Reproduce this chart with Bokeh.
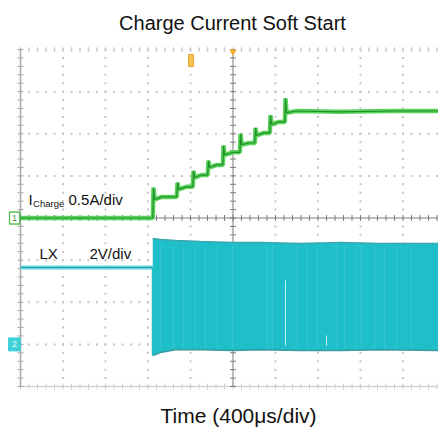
import numpy as np
from bokeh.plotting import figure
from bokeh.models import Range1d
from bokeh.core.properties import value
from bokeh.embed import file_html
from bokeh.resources import INLINE

# ---------------- scope settings ----------------
TIME_PER_DIV = 400.0     # µs/div
CH1_SCALE = 0.5          # A/div  (I_Charge)
CH2_SCALE = 2.0          # V/div  (LX)
CH1_ZERO = 0.0           # div position of 0 A
CH2_ZERO = -3.0          # div position of 0 V
N_HDIV = 10
N_VDIV = 8

# ---------------- data ----------------
# Charge current (A) vs time (µs from left edge of screen)
i_time = [0, 1245, 1252, 1262, 1330, 1470, 1478, 1488, 1560, 1622, 1628, 1638,
          1700, 1762, 1769, 1779, 1850, 1905, 1911, 1921, 2000, 2065, 2071, 2081,
          2150, 2206, 2212, 2222, 2290, 2347, 2353, 2363, 2430, 2488, 2494, 2504,
          2600, 3000, 3500, 3940]
i_amp = [0.0, 0.0, 0.36, 0.22, 0.25, 0.25, 0.42, 0.34, 0.37, 0.37, 0.56, 0.48,
         0.51, 0.51, 0.68, 0.60, 0.63, 0.63, 0.86, 0.75, 0.78, 0.78, 1.00, 0.87,
         0.89, 0.89, 1.07, 0.98, 1.01, 1.01, 1.22, 1.11, 1.14, 1.14, 1.42, 1.25,
         1.27, 1.26, 1.27, 1.27]

# LX before switching starts (V)
lx_time = [0, 1245]
lx_volt = [3.65, 3.65]

# LX switching envelope (V)
sw_time = [1245, 1318, 1459, 1694, 1995, 2259, 2635, 3012, 3388, 3940]
sw_high = [5.03, 4.98, 4.93, 4.88, 4.84, 4.84, 4.79, 4.84, 4.79, 4.79]
sw_low = [-0.53, -0.39, -0.25, -0.25, -0.29, -0.25, -0.29, -0.29, -0.25, -0.29]

# lighter stripes inside the switching band (µs)
stripe_time = [1318, 1440, 1534, 1647, 1741, 1854, 1995, 2325, 2372, 2607, 2701,
               2795, 2983, 3050, 3162, 3209, 3332, 3426, 3539, 3680]
# thin white gaps (time, top V, bottom V)
gap_time = [2494, 2880]
gap_top = [3.03, 0.42]
gap_bot = [-0.06, -0.06]

# texts
title_text = "Charge Current Soft Start"
xlabel_text = "Time (400\u03bcs/div)"
lbl_text = ["LX", "2V/div"]
lbl_t = [179, 649]
lbl_y = [-0.986, -0.986]

# ---------------- figure ----------------
PX_DIV_X = 42.5
PX_DIV_Y = 42.125
LEFT_PX, CENTER_Y_PX, W, H = 20, 217.5, 438, 429
x0 = (0 - LEFT_PX) / PX_DIV_X * TIME_PER_DIV
x1 = (W - LEFT_PX) / PX_DIV_X * TIME_PER_DIV
y1 = CENTER_Y_PX / PX_DIV_Y
y0 = (CENTER_Y_PX - H) / PX_DIV_Y
TXT_SHIFT = 6.0 / PX_DIV_Y      # baseline correction for text glyphs
p = figure(width=W, height=H, output_backend="svg", toolbar_location=None,
           x_range=Range1d(x0, x1), y_range=Range1d(y0, y1),
           min_border=0)
p.xaxis.visible = False
p.yaxis.visible = False
p.grid.visible = False
p.outline_line_color = None
p.background_fill_color = "white"
p.border_fill_color = "white"

FONT = "Liberation Sans"
TXT = "#111111"

# ---------------- graticule ----------------
DOT = "#c6c6c6"
sub = np.arange(0, N_HDIV * 5 + 1) * TIME_PER_DIV / 5
vsub = np.arange(-N_VDIV * 5 // 2, N_VDIV * 5 // 2 + 1) / 5.0
vx, vy = [], []
for k in range(1, N_HDIV):
    if k == N_HDIV // 2:
        continue
    vx += [k * TIME_PER_DIV] * len(vsub)
    vy += list(vsub)
p.scatter(vx, vy, marker="square", size=2, color=DOT, line_color=None)
hx, hy = [], []
for j in range(-N_VDIV // 2 + 1, N_VDIV // 2 + 1):
    if j == 0:
        continue
    hx += list(sub)
    hy += [j] * len(sub)
p.scatter(hx, hy, marker="square", size=2, color=DOT, line_color=None)
p.scatter(sub, [N_VDIV / 2] * len(sub), marker="dash", angle=np.pi / 2, size=5,
          line_color="#cfcfcf", line_width=1)
p.segment(0, -N_VDIV / 2, N_HDIV * TIME_PER_DIV, -N_VDIV / 2, line_color="#d2d2d2",
          line_width=1.5)
p.scatter(sub, [-N_VDIV / 2] * len(sub), marker="dash", angle=np.pi / 2, size=6,
          line_color="#cfcfcf", line_width=1)
p.segment(0, -N_VDIV / 2, 0, N_VDIV / 2, line_color="#a8a8a8", line_width=1.5)
p.scatter([0] * len(vsub), vsub, marker="dash", size=6, line_color="#a8a8a8",
          line_width=1)
CC = "#7c7c7c"
p.segment(0, 0, N_HDIV * TIME_PER_DIV, 0, line_color=CC, line_width=1)
p.segment(N_HDIV / 2 * TIME_PER_DIV, -N_VDIV / 2, N_HDIV / 2 * TIME_PER_DIV,
          N_VDIV / 2, line_color=CC, line_width=1)
p.scatter(sub, [0] * len(sub), marker="dash", angle=np.pi / 2, size=6,
          line_color=CC, line_width=1)
p.scatter([N_HDIV / 2 * TIME_PER_DIV] * len(vsub), vsub, marker="dash", size=6,
          line_color=CC, line_width=1)


def ch2(v):
    return np.asarray(v, dtype=float) / CH2_SCALE + CH2_ZERO


def ch1(a):
    return np.asarray(a, dtype=float) / CH1_SCALE + CH1_ZERO


# ---------------- LX (channel 2) ----------------
CYAN = "#1fbfc9"
p.line(lx_time, ch2(lx_volt), line_color="#5fd6de", line_width=4)
p.line(lx_time, ch2(lx_volt), line_color="#2a9ca8", line_width=1)
p.varea(x=sw_time, y1=ch2(sw_low), y2=ch2(sw_high), fill_color=CYAN)
p.segment(stripe_time, ch2([sw_high[-1] - 0.1] * len(stripe_time)), stripe_time,
          ch2([sw_low[-1] + 0.1] * len(stripe_time)), line_color="#45ccd5",
          line_width=1.2, line_alpha=0.6)
p.segment(gap_time, ch2(gap_top), gap_time, ch2(gap_bot), line_color="#c8f2f5",
          line_width=1)
p.line(sw_time, ch2(sw_high), line_color="#3aa7b0", line_width=1.5)
p.line(sw_time, ch2(sw_low), line_color="#3a9aa0", line_width=1.5)
p.segment([sw_time[0]], ch2([lx_volt[-1]]), [sw_time[0]], ch2([sw_low[0]]),
          line_color=CYAN, line_width=2)

# ---------------- I_Charge (channel 1) ----------------
p.line(i_time, ch1(i_amp), line_color="#5cd45c", line_width=4.5)
p.line(i_time, ch1(i_amp), line_color="#1f8f2a", line_width=1.2)

# ---------------- channel / trigger markers ----------------
mk_t = -0.141 * TIME_PER_DIV
p.rect([mk_t], [CH1_ZERO], width=10, height=12, width_units="screen",
       height_units="screen", fill_color="white", line_color="#55c055", line_width=1.3)
p.text([mk_t], [CH1_ZERO], text=["1"], text_font=value(FONT), text_font_size="9px",
       text_align="center", text_baseline="middle", text_color="#3a9a3a")
p.rect([mk_t], [CH2_ZERO], width=12, height=13, width_units="screen",
       height_units="screen", fill_color="#3fd0d8", line_color="#3fd0d8")
p.text([mk_t], [CH2_ZERO], text=["2"], text_font=value(FONT), text_font_size="9px",
       text_align="center", text_baseline="middle", text_color="#e8fbfc")
p.rect([1605], [3.74], width=5, height=12, width_units="screen",
       height_units="screen", fill_color="#f6c453", line_color="#e8a030")
p.scatter([N_HDIV / 2 * TIME_PER_DIV], [3.95], marker="inverted_triangle", size=6,
          color="#f0b030")

# ---------------- labels ----------------
p.text([75], [0.297 + TXT_SHIFT], text=["I"], text_font=value(FONT),
       text_font_size="15px", text_align="left", text_baseline="alphabetic",
       text_color=TXT)
p.text([118], [0.2375 + TXT_SHIFT * 0.7], text=["Charge"], text_font=value(FONT),
       text_font_size="9.5px", text_align="left", text_baseline="alphabetic",
       text_color=TXT)
p.text([452], [0.297 + TXT_SHIFT], text=["0.5A/div"], text_font=value(FONT),
       text_font_size="15px", text_align="left", text_baseline="alphabetic",
       text_color=TXT)
p.text(lbl_t, [y + TXT_SHIFT for y in lbl_y], text=lbl_text, text_font=value(FONT),
       text_font_size="15px", text_align="left", text_baseline="alphabetic",
       text_color=TXT)

# title and x-axis caption
p.text([1995], [4.475 + TXT_SHIFT], text=[title_text], text_font=value(FONT),
       text_font_size="20px", text_align="center", text_baseline="alphabetic",
       text_color=TXT)
p.text([2052], [-4.855 + TXT_SHIFT * 1.1], text=[xlabel_text], text_font=value(FONT),
       text_font_size="21px", text_align="center", text_baseline="alphabetic",
       text_color=TXT)

open("out.html", "w").write(file_html(p, INLINE))
